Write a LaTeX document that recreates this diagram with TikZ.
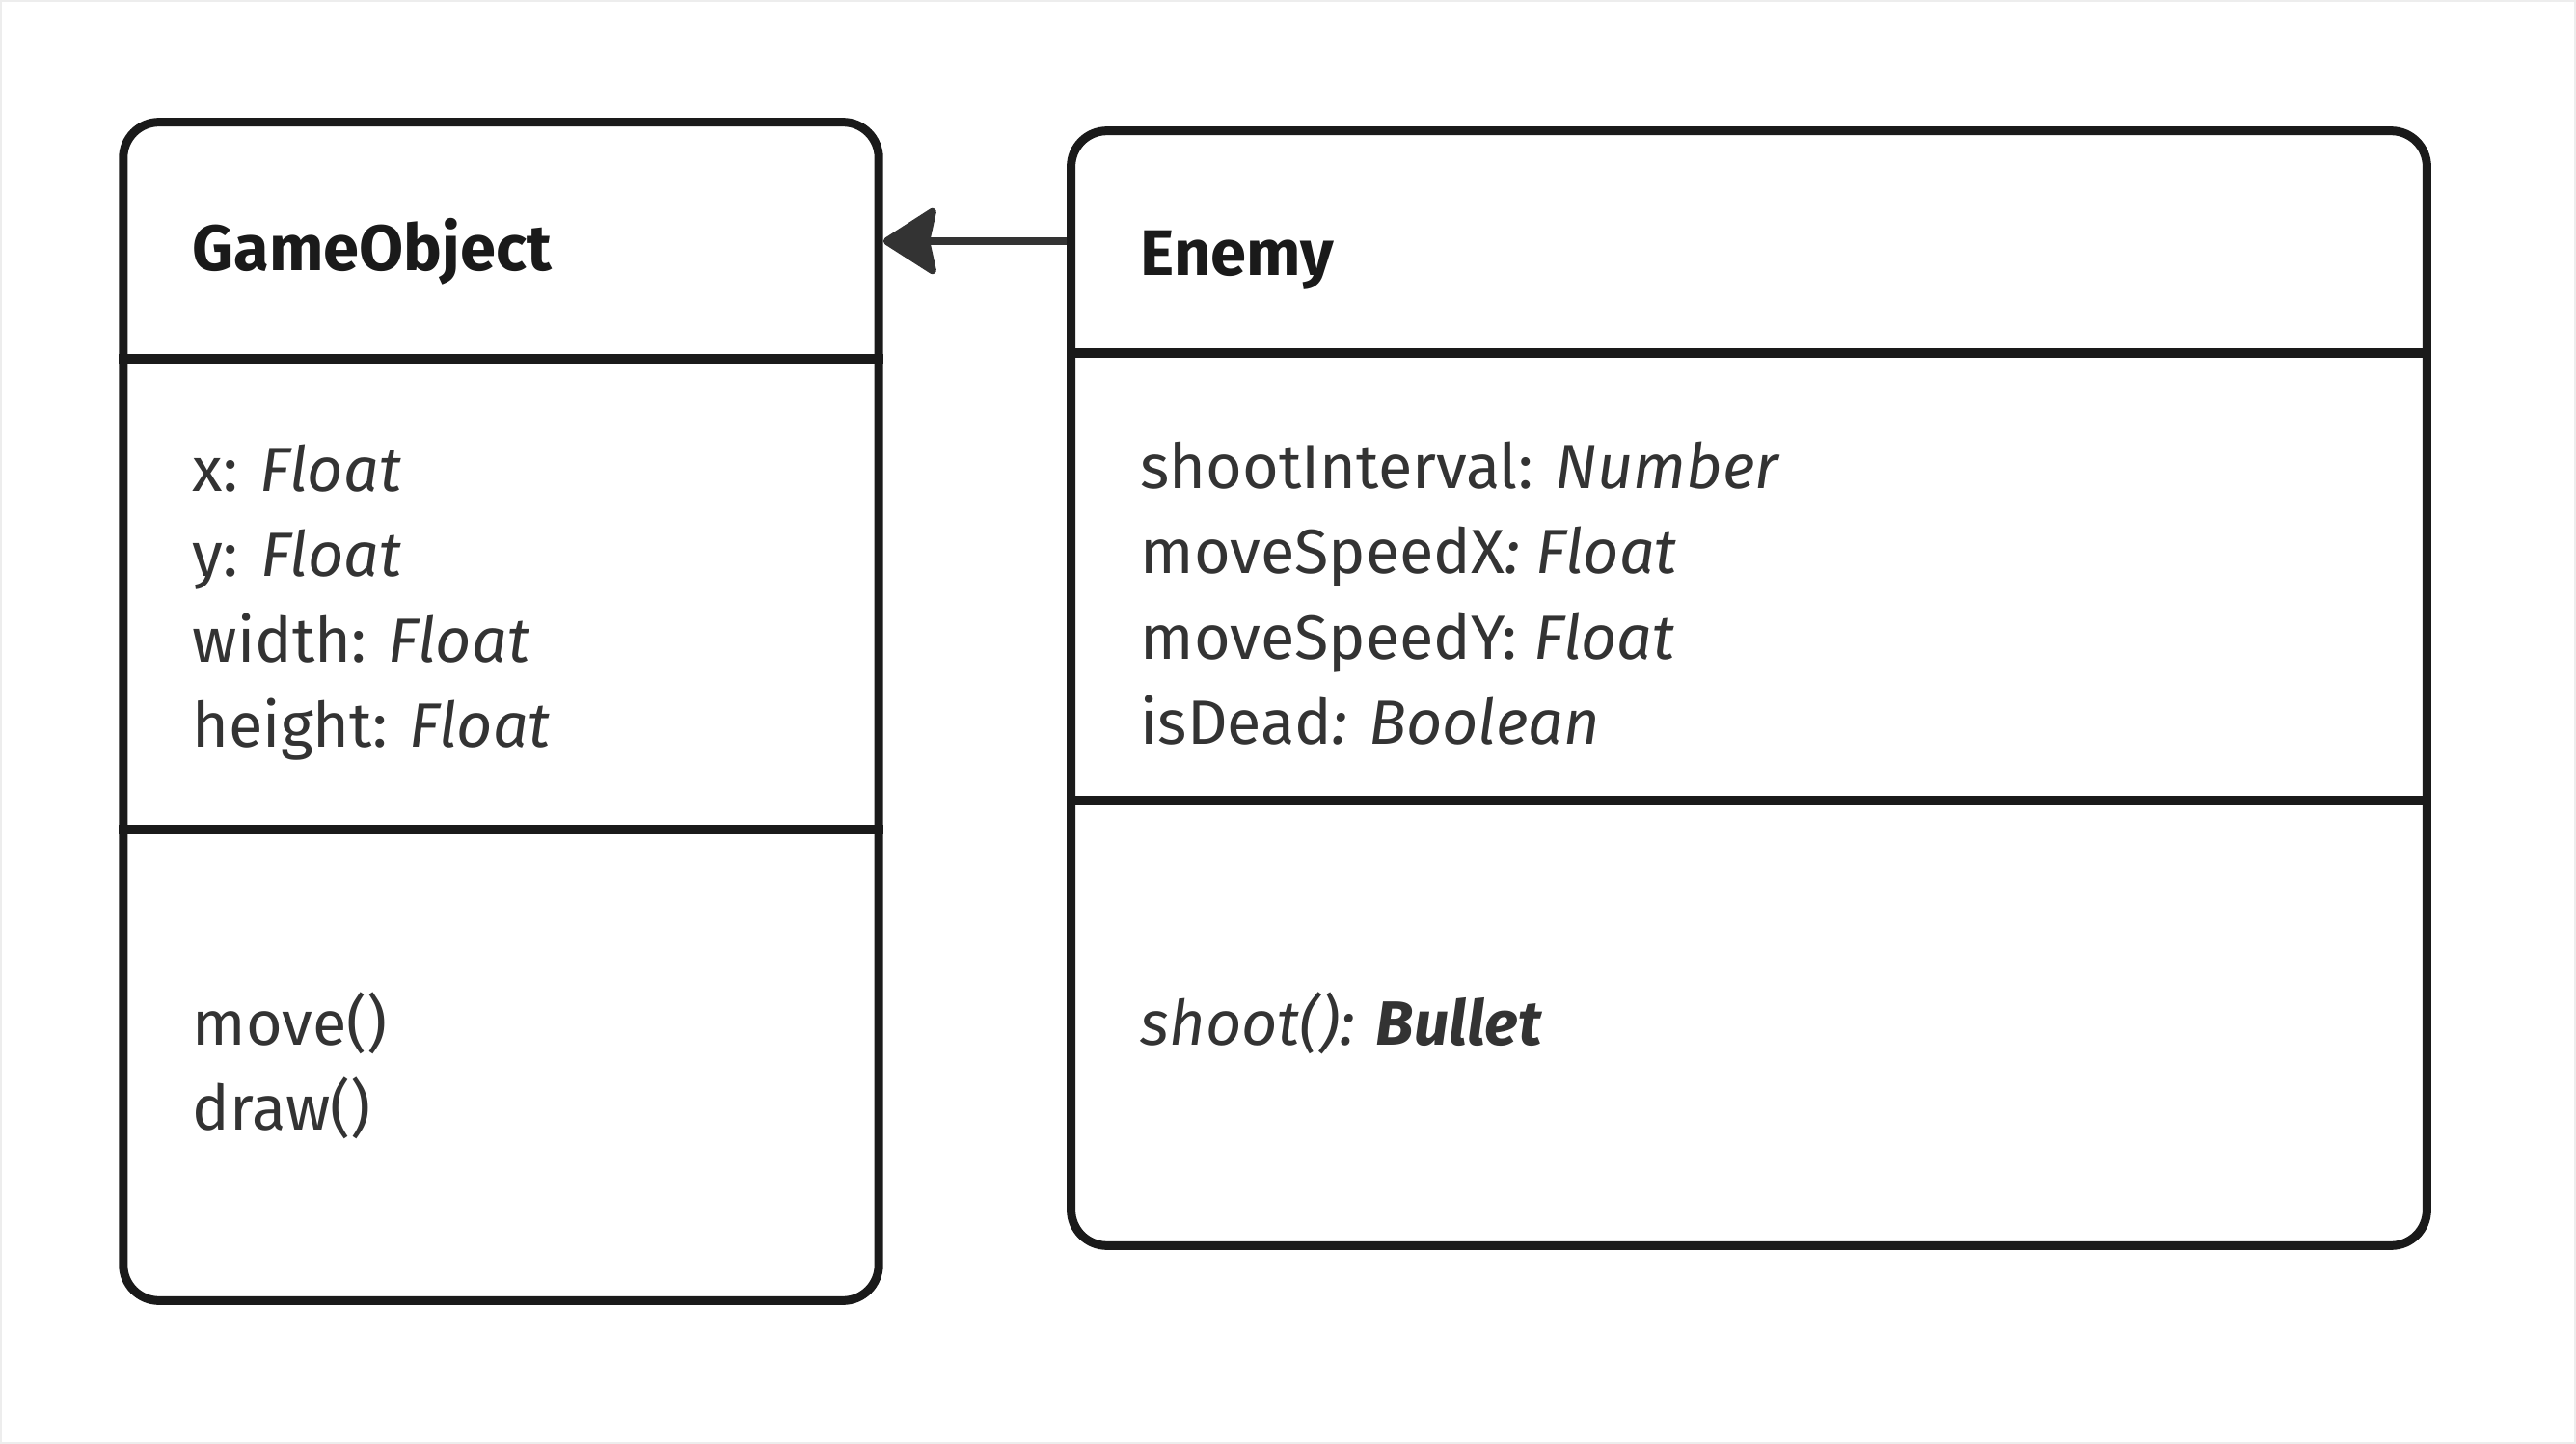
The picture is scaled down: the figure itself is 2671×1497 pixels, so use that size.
\documentclass[tikz,border=0pt]{standalone}
\usepackage{fontspec}
\setmainfont{Fira Sans}
\usetikzlibrary{arrows.meta}
\definecolor{umlline}{HTML}{1A1A1A}
\definecolor{umltext}{HTML}{333333}
\tikzset{
  classbox/.style={draw=umlline, line width=0.09cm, rounded corners=0.37cm, fill=white, inner sep=0pt},
  divider/.style={draw=umlline, line width=0.09cm},
  classname/.style={anchor=base west, inner sep=0pt, text=umlline, font=\fontsize{19}{23}\selectfont\bfseries},
  member/.style={anchor=base west, inner sep=0pt, text=umltext, font=\fontsize{18.4}{23}\selectfont},
  inherits/.style={draw=umltext, line width=0.08cm, -{Stealth[length=0.6cm, width=0.76cm, inset=0.08cm, round]}}
}

\begin{document}
\begin{tikzpicture}[x=0.01cm, y=-0.01cm]
\useasboundingbox (0,0) rectangle (2671,1497);
\draw[black!7, line width=0.02cm] (1,1) rectangle (2670,1496);

% Class boxes
\node[classbox, minimum width=7.83cm, minimum height=12.21cm] (gameobj) at (519.5,737.5) {};
\node[classbox, minimum width=14.05cm, minimum height=11.55cm] (enemy) at (1813.5,713.5) {};

% Compartment dividers
\coordinate (godiv1) at (0,372);
\coordinate (godiv2) at (0,860);
\coordinate (endiv1) at (0,366);
\coordinate (endiv2) at (0,830);
\draw[divider] (gameobj.west |- godiv1) -- (gameobj.east |- godiv1);
\draw[divider] (gameobj.west |- godiv2) -- (gameobj.east |- godiv2);
\draw[divider] (enemy.west |- endiv1) -- (enemy.east |- endiv1);
\draw[divider] (enemy.west |- endiv2) -- (enemy.east |- endiv2);

% Class names
\node[classname] (gotitle) at (199,281) {GameObject};
\node[classname] (entitle) at (1182,286) {Enemy};

% Attributes
\foreach [count=\i] \t in {{x: \textit{Float}}, {y: \textit{Float}}, {width: \textit{Float}}, {height: \textit{Float}}}
  \node[member] (goattr-\i) at (199,{509+88.6*(\i-1)}) {\t};
\foreach [count=\i] \t in {{shootInterval: \textit{Number}}, {moveSpeedX\textit{: Float}}, {moveSpeedY: \textit{Float}}, {isDead\textit{: Boolean}}}
  \node[member] (enattr-\i) at (1182,{506+88.6*(\i-1)}) {\t};

% Operations
\foreach [count=\i] \t in {move(), draw()}
  \node[member] (goop-\i) at (199,{1083+88.6*(\i-1)}) {\t};
\node[member] (enop-1) at (1182,1083) {\textit{shoot(): \textbf{Bullet}}};

% Generalisation
\coordinate (arrowy) at (0,250);
\draw[inherits] (enemy.west |- arrowy) -- (gameobj.east |- arrowy);
\end{tikzpicture}
\end{document}
